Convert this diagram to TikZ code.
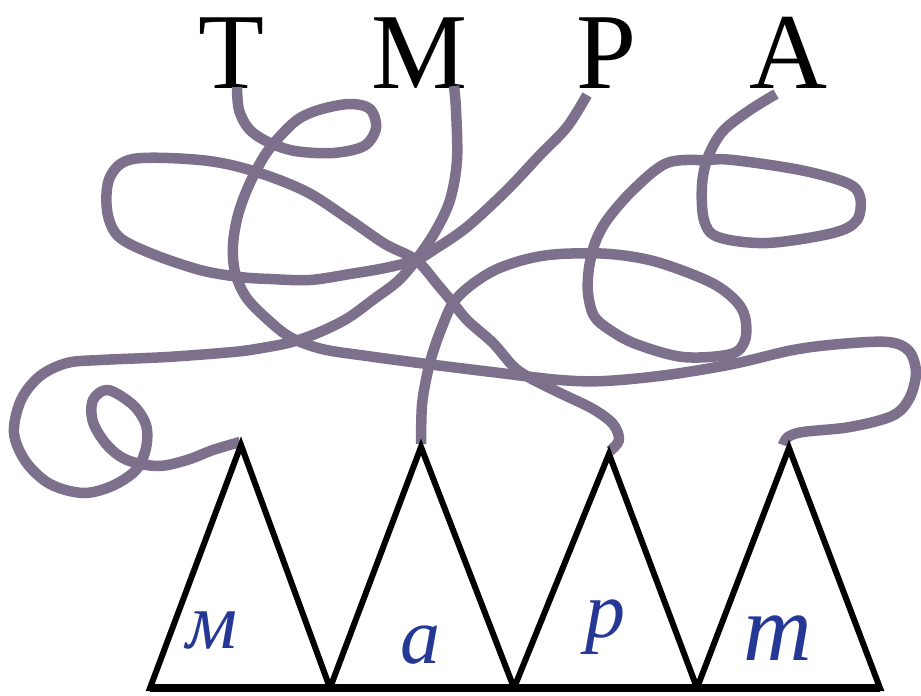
\documentclass[tikz,border=0pt]{standalone}
\usepackage{fontspec}
\setmainfont{Liberation Serif}
\definecolor{yarncol}{RGB}{124,112,140}
\definecolor{inkcol}{RGB}{38,56,150}
\begin{document}
\begin{tikzpicture}[x=1pt,y=-1pt,
  yarnline/.style={draw=yarncol, line width=10.5pt, line join=round},
  tri/.style={draw=black, line width=6pt, line join=miter},
  toplet/.style={anchor=base, inner sep=0pt, font=\fontsize{108}{108}\selectfont},
  hand/.style={anchor=base, inner sep=0pt, text=inkcol, font=\itshape\fontsize{80}{80}\selectfont}]
\useasboundingbox (0,0) rectangle (921,696);
% top letters
\node[toplet] (T) at (231,88) {Т};
\node[toplet] (M) at (420,88) {М};
\node[toplet] (P) at (607,88) {Р};
\node[toplet] (A) at (788,88) {А};
% string starts
\coordinate (sT) at (237,87);
\coordinate (sM) at (454,86);
\coordinate (sP) at (587,95);
\coordinate (sA) at (776,94);
% triangles
\coordinate (a1) at (241,445);
\coordinate (a2) at (421,447);
\coordinate (a3) at (609,454);
\coordinate (a4) at (789,448);
\coordinate (b0) at (150,688);
\coordinate (b1) at (330,688);
\coordinate (b2) at (514,688);
\coordinate (b3) at (697,688);
\coordinate (b4) at (880,688);
% string ends
\coordinate (e1) at (240,442);
\coordinate (e2) at (421,444);
\coordinate (e3) at (610,451);
\coordinate (e4) at (783,445);
% strings
\draw[yarnline] plot[smooth, tension=0.55] coordinates {(sT) (239,110) (249,129) (268,142) (295,151) (333,153) (364,146) (376,128) (370,109) (350,104) (322,109) (300,118) (283,133) (265,155) (249,185) (238,215) (233,245) (235,272) (246,297) (266,318) (290,337) (322,349) (367,356) (427,364) (500,373) (560,380) (605,381) (667,375) (733,364) (793,350) (840,344) (888,342) (909,351) (916,373) (909,399) (892,416) (850,427) (803,432) (788,437) (e4)};
\draw[yarnline] plot[smooth, tension=0.55] coordinates {(sM) (456,110) (457,160) (450,200) (435,232) (416,260) (398,281) (374,299) (348,318) (320,332) (292,342) (262,348) (233,352) (167,357) (100,360) (67,363) (40,376) (21,400) (14,433) (26,462) (50,484) (83,493) (112,486) (136,470) (146,448) (146,425) (133,405) (108,390) (93,400) (93,422) (107,445) (127,460) (158,466) (187,460) (213,450) (e1)};
\draw[yarnline] plot[smooth, tension=0.55] coordinates {(sP) (567,127) (540,155) (507,190) (467,227) (435,249) (416,260) (385,268) (350,274) (310,280) (270,279) (240,277) (200,270) (150,253) (118,236) (107,210) (110,177) (133,159) (200,160) (250,170) (305,191) (350,220) (385,244) (416,260) (438,285) (453,303) (468,321) (493,343) (513,366) (530,378) (560,393) (593,409) (613,424) (619,440) (e3)};
\draw[yarnline] plot[smooth, tension=0.55] coordinates {(sA) (750,110) (723,131) (708,157) (702,185) (704,220) (718,237) (767,243) (833,233) (857,220) (860,197) (847,183) (800,170) (733,160) (707,160) (667,163) (633,190) (607,220) (595,243) (589,268) (588,293) (594,316) (610,330) (636,344) (683,357) (731,354) (745,340) (745,317) (735,300) (710,282) (657,262) (610,254) (560,254) (527,259) (495,270) (470,286) (453,303) (442,327) (433,352) (427,375) (422,405) (e2)};
% triangles
\draw[tri] (b0) -- (a1) -- (b1) -- cycle;
\draw[tri] (b1) -- (a2) -- (b2) -- cycle;
\draw[tri] (b2) -- (a3) -- (b3) -- cycle;
\draw[tri] (b3) -- (a4) -- (b4) -- cycle;
\draw[draw=black, line width=8pt] (b0) -- (b4);
% handwritten letters
\node[hand] (h1) at (212,648) {м};
\node[hand] (h2) at (420,663) {а};
\node[hand] (h3) at (605,637) {р};
\node[hand, font=\itshape\fontsize{95}{95}\selectfont] (h4) at (778,660) {т};
\end{tikzpicture}
\end{document}
